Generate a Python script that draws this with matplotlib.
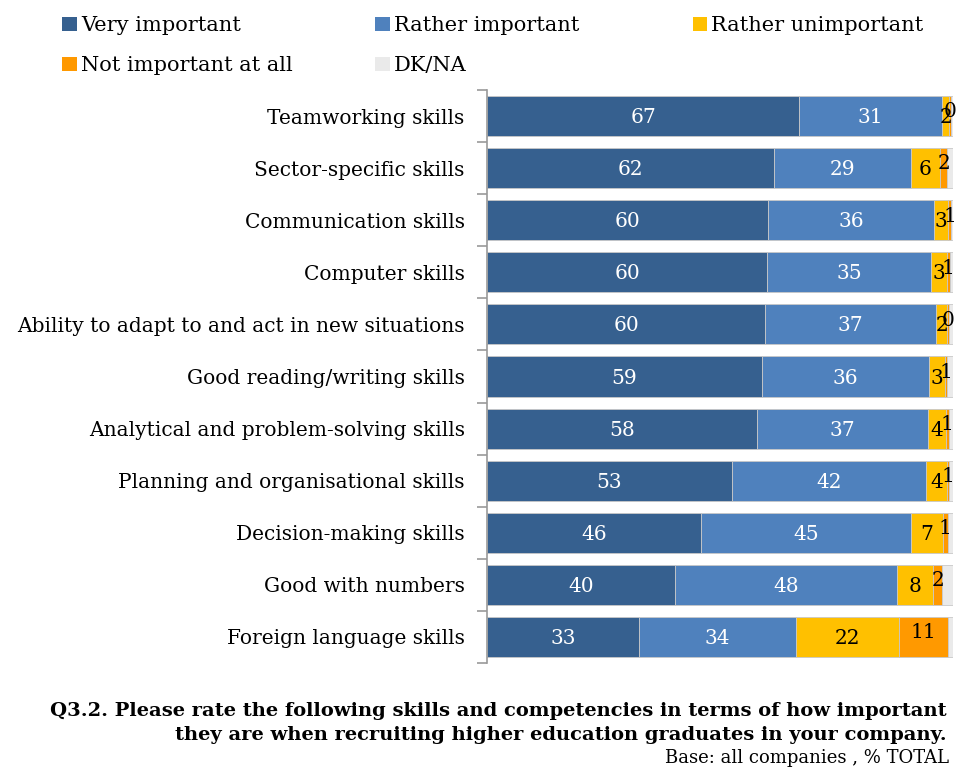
import matplotlib
matplotlib.use("Agg")
import matplotlib.pyplot as plt
import numpy as np
from matplotlib.patches import Patch

# categories, top to bottom
skills = ["Teamworking skills", "Sector-specific skills", "Communication skills",
          "Computer skills", "Ability to adapt to and act in new situations",
          "Good reading/writing skills", "Analytical and problem-solving skills",
          "Planning and organisational skills", "Decision-making skills",
          "Good with numbers", "Foreign language skills"]

very_imp = [67.0, 61.6, 60.3, 60.1, 59.7, 59.0, 57.9, 52.6, 45.9, 40.3, 32.6]
rather_imp = [30.6, 29.4, 35.6, 35.2, 36.7, 35.8, 36.7, 41.6, 45.1, 47.6, 33.6]
rather_unimp = [1.6, 6.2, 3.1, 3.3, 2.4, 3.4, 3.8, 4.4, 6.8, 7.9, 22.1]
not_imp = [0.3, 1.6, 0.6, 0.8, 0.3, 0.6, 0.7, 0.6, 1.1, 1.9, 10.6]
dk_na = [0.5, 1.2, 0.4, 0.6, 0.9, 1.2, 0.9, 0.8, 1.1, 2.3, 1.1]

series = [("Very important", very_imp, "#36608F", "white"),
          ("Rather important", rather_imp, "#4F81BD", "white"),
          ("Rather unimportant", rather_unimp, "#FFC000", "black"),
          ("Not important at all", not_imp, "#FF9900", "black"),
          ("DK/NA", dk_na, "#EAEAEA", None)]

plt.rcParams['font.family'] = ['DejaVu Serif']

fig = plt.figure(figsize=(9.71, 7.75), dpi=100)
ax = fig.add_axes([0.5015, 0.1445, 0.48, 0.7394])

y = np.arange(len(skills))
left = np.zeros(len(skills))
for name, vals, col, tcol in series:
    vals = np.array(vals)
    ax.barh(y, vals, left=left, height=0.77, color=col, edgecolor="#C8C8C8",
            linewidth=0.6, label=name)
    if tcol is not None:
        for i, v in enumerate(vals):
            dy = -0.08 if name == "Not important at all" else 0.03
            ax.text(left[i] + v / 2, y[i] + dy, f"{v:.0f}", ha="center", va="center",
                    color=tcol, fontsize=14.5)
    left += vals

ax.set_xlim(0, 100)
ax.set_ylim(len(skills) - 0.5, -0.5)
ax.set_yticks(y)
ax.set_yticklabels(skills, fontsize=14.5)
ax.set_yticks(np.arange(-0.5, len(skills)), minor=True)
ax.tick_params(axis="y", which="major", length=0, pad=16)
ax.tick_params(axis="y", which="minor", length=7, color="#999999", width=1.2)
ax.set_xticks([])
for s in ["top", "right", "bottom"]:
    ax.spines[s].set_visible(False)
ax.spines["left"].set_color("#999999")
ax.spines["left"].set_linewidth(1.2)

# legend laid out row-wise, one legend per column
columns = [[0, 3], [1, 4], [2]]
col_x = [0.045, 0.367, 0.694]
for ks, x0 in zip(columns, col_x):
    hs = [Patch(facecolor=series[k][2], edgecolor="none") for k in ks]
    ls = [series[k][0] for k in ks]
    fig.legend(hs, ls, loc="upper left", bbox_to_anchor=(x0, 1.003), ncol=1,
               frameon=False, fontsize=15, handlelength=0.7, handleheight=0.7,
               handletextpad=0.2, labelspacing=1.0)

fig.text(0.975, 0.083, "Q3.2. Please rate the following skills and competencies in terms of how important",
         ha="right", va="center", fontsize=14, fontweight="bold")
fig.text(0.975, 0.052, "they are when recruiting higher education graduates in your company.",
         ha="right", va="center", fontsize=14, fontweight="bold")
fig.text(0.977, 0.022, "Base: all companies , % TOTAL", ha="right", va="center",
         fontsize=13)

fig.savefig("out.png", dpi=100)
